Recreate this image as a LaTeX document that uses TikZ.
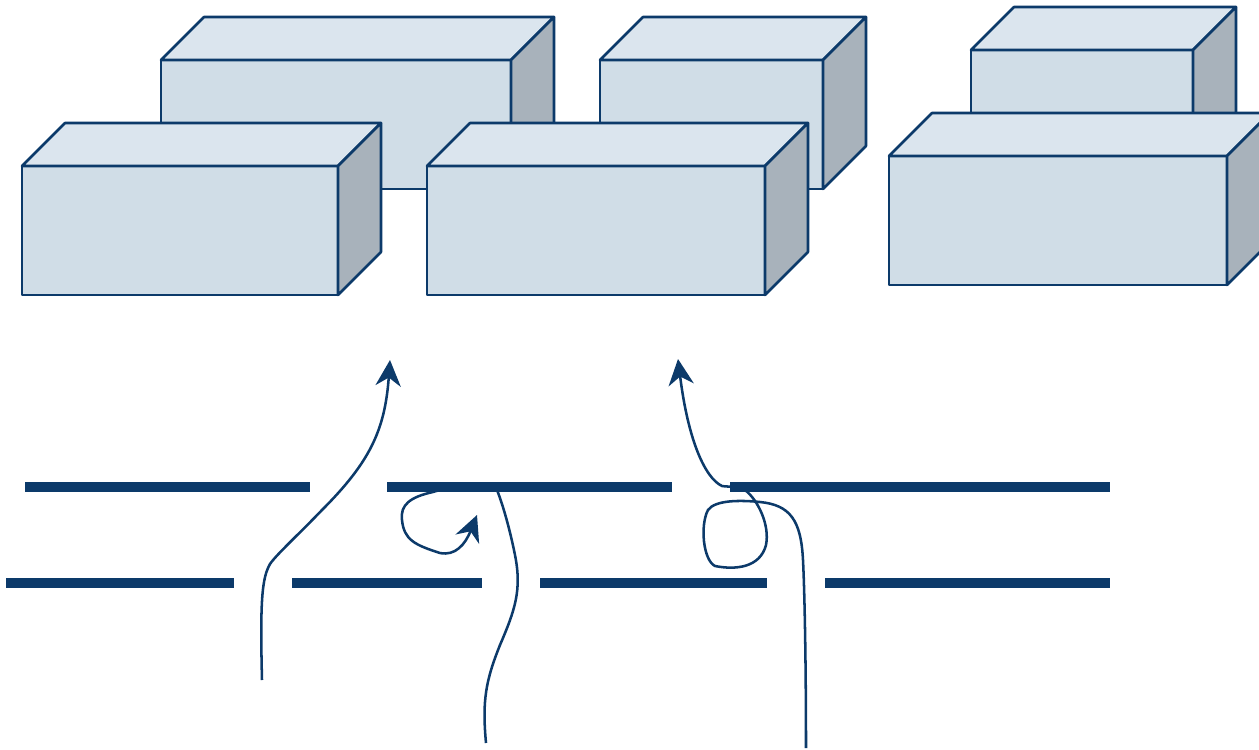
\documentclass[tikz,border=0pt]{standalone}
\usepackage{tikz}
\usetikzlibrary{arrows.meta}

\definecolor{navy}{HTML}{0C3A6A}
\definecolor{frontcol}{HTML}{D0DDE7}
\definecolor{topcol}{HTML}{DBE5EE}
\definecolor{sidecol}{HTML}{A8B2BB}

% x, y of the front top-left corner, width, height
\newcommand{\cuboidbox}[4]{%
  \draw[boxline, fill=frontcol] (#1,#2) rectangle ++(#3,#4);
  \draw[boxline, fill=topcol] (#1,#2) -- ++(43,-43) -- ++(#3,0) -- ++(-43,43) -- cycle;
  \draw[boxline, fill=sidecol] (#1+#3,#2) -- ++(43,-43) -- ++(0,#4) -- ++(-43,43) -- cycle;
}

\tikzset{
  boxline/.style={draw=navy, line width=1.8pt, line join=round},
  bar/.style={navy, line width=7.1pt},
  track/.style={navy, line width=1.8pt},
  tracktip/.style={track, -{Stealth[length=18.5pt, width=18pt, inset=6pt]}}
}

\begin{document}
\begin{tikzpicture}[x=0.025cm, y=-0.025cm]
    \useasboundingbox (0,0) rectangle (1259,750);
    \clip (0,0) rectangle (1259,750);

    % back row
    \cuboidbox{161}{60}{350}{129}
    \cuboidbox{600}{60}{223}{129}
    \cuboidbox{971}{50}{222}{129}
    % front row
    \cuboidbox{22}{166}{316}{129}
    \cuboidbox{427}{166}{338}{129}
    \cuboidbox{889}{156}{338}{129}

    % track ends
    \coordinate (start1) at (262,680);
    \coordinate (tip1) at (390,360);
    \coordinate (start2) at (486,743);
    \coordinate (tip2) at (477,515);
    \coordinate (start3) at (806,748);
    \coordinate (tip3) at (678,359);

    \draw[tracktip] (start1) .. controls (260,600) and (262,578) .. (270,564)
        .. controls (276,555) and (300,533) .. (322,510)
        .. controls (370,462) and (385,430) .. (tip1);
    \draw[tracktip] (start2) .. controls (482,700) and (486,680) .. (500,645)
        .. controls (515,610) and (522,590) .. (515,555)
        .. controls (510,530) and (503,505) .. (497,490)
        .. controls (490,486) and (450,486) .. (433,492)
        .. controls (410,497) and (400,505) .. (402,520)
        .. controls (404,540) and (415,545) .. (440,553)
        .. controls (455,556) and (465,545) .. (tip2);
    \draw[tracktip] (start3) .. controls (806,680) and (805,600) .. (803,560)
        .. controls (801,520) and (790,505) .. (760,502)
        .. controls (740,500) and (715,500) .. (708,510)
        .. controls (700,525) and (703,560) .. (715,566)
        .. controls (735,570) and (760,568) .. (766,545)
        .. controls (770,525) and (758,500) .. (745,490)
        .. controls (738,486) and (728,487) .. (722,486)
        .. controls (705,478) and (688,440) .. (tip3);

    % slits
    \foreach \a/\b in {25/310, 387/672, 730/1110}
        \draw[bar] (\a,487) -- (\b,487);
    \foreach \a/\b in {6/234, 292/482, 540/767, 825/1110}
        \draw[bar] (\a,583) -- (\b,583);
\end{tikzpicture}
\end{document}
